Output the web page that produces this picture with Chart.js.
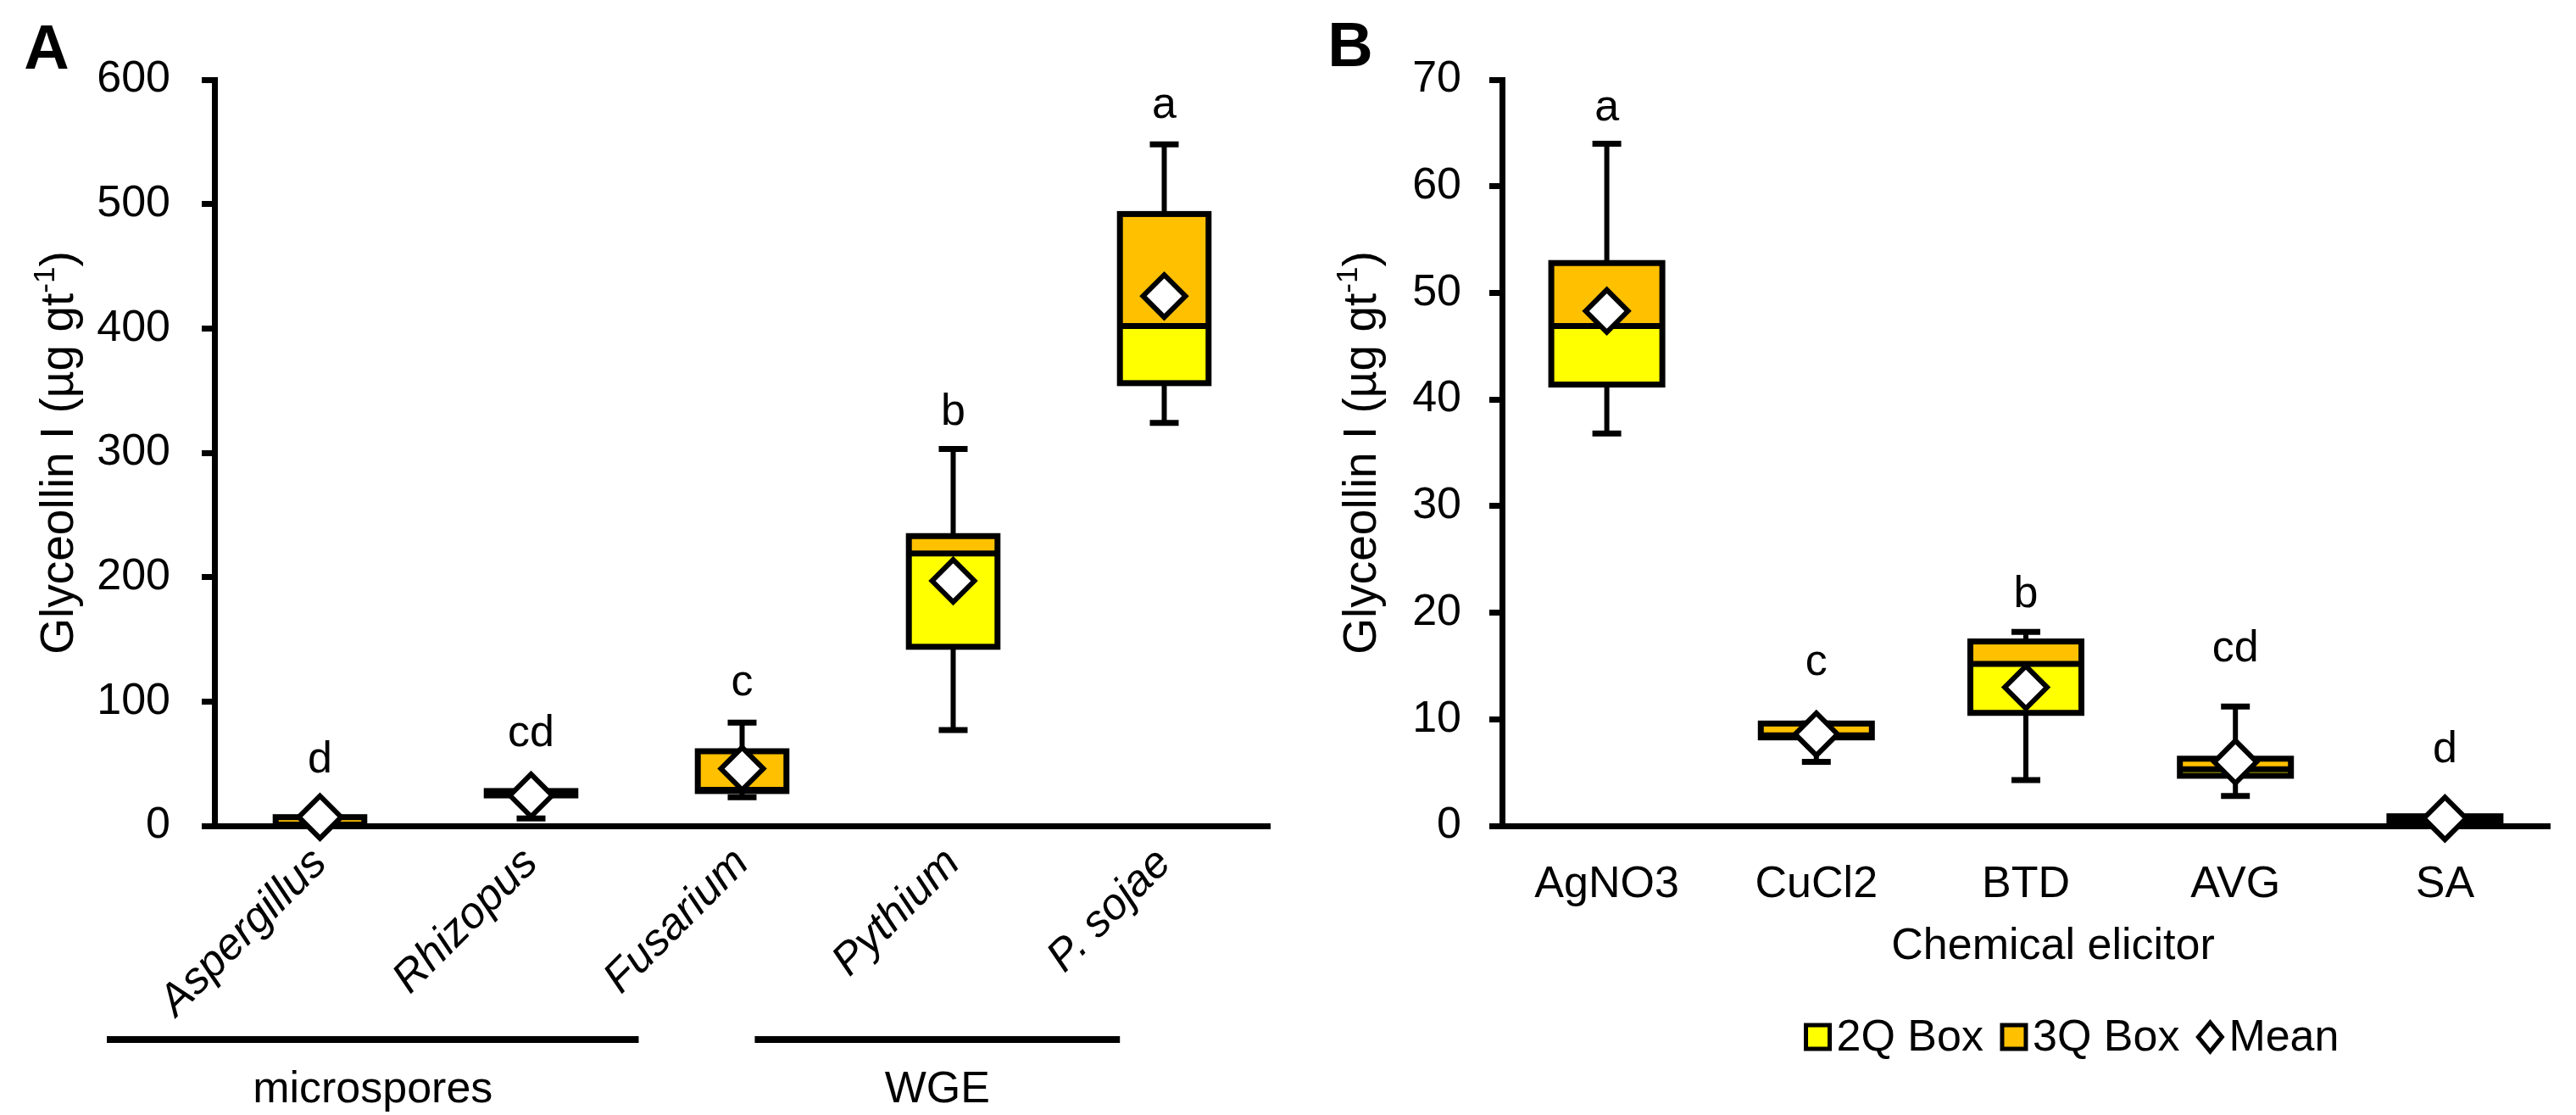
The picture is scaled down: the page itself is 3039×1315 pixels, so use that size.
<!DOCTYPE html>
<html>
<head>
<meta charset="utf-8">
<script src="https://cdn.jsdelivr.net/npm/chart.js@4.4.1/dist/chart.umd.min.js"></script>
<style>
  html, body { margin: 0; padding: 0; background: #fff; }
  body { width: 3039px; height: 1315px; position: relative; overflow: hidden; }
  .panel { position: absolute; top: 0; height: 1315px; }
  #panelA { left: 0; width: 1560px; }
  #panelB { left: 1560px; width: 1479px; }
</style>
</head>
<body>
<div class="panel" id="panelA"><canvas id="chartA"></canvas></div>
<div class="panel" id="panelB"><canvas id="chartB"></canvas></div>
<script>
// Panel A: glyceollin I induced by fungal elicitors
const fungi = ["Aspergillus", "Rhizopus", "Fusarium", "Pythium", "P. sojae"];
const fungiMin = [0, 6, 23, 77, 324];
const fungiQ1 = [0.5, 24.5, 28, 144, 356];
const fungiMedian = [1, 26, 29, 219, 402];
const fungiQ3 = [7, 28, 60, 233, 492];
const fungiMax = [7.5, 28.5, 83, 303, 548];
const fungiMean = [7, 24.5, 46, 197, 426];
const fungiLetters = ["d", "cd", "c", "b", "a"];
const fungiLetterAt = [53, 74, 115, 332, 579];
const fungiGroups = ["microspores", "WGE"];
const fungiGroupFrom = [0, 3];
const fungiGroupTo = [2, 4];

// Panel B: glyceollin I induced by chemical elicitors
const elicitors = ["AgNO3", "CuCl2", "BTD", "AVG", "SA"];
const elicMin = [36.8, 6.0, 4.3, 2.8, 0.2];
const elicQ1 = [41.4, 8.3, 10.6, 4.7, 0.4];
const elicMedian = [46.9, 8.5, 15.2, 5.3, 0.6];
const elicQ3 = [52.8, 9.6, 17.3, 6.3, 0.9];
const elicMax = [64.0, 9.6, 18.2, 11.2, 0.9];
const elicMean = [48.3, 8.6, 13.0, 6.0, 0.7];
const elicLetters = ["a", "c", "b", "cd", "d"];
const elicLetterAt = [67.3, 15.3, 21.7, 16.6, 7.1];

const legendLabels = ["2Q Box", "3Q Box", "Mean"];
const YELLOW = "#FFFF00";
const ORANGE = "#FFC000";
const FONT = "'Liberation Sans', Arial, sans-serif";

Chart.defaults.font.family = FONT;
Chart.defaults.font.size = 52;
Chart.defaults.color = "#000";

function line(ctx, x1, y1, x2, y2) {
  ctx.beginPath();
  ctx.moveTo(x1, y1);
  ctx.lineTo(x2, y2);
  ctx.stroke();
}

// whiskers, box outlines, medians and letters, drawn just before the mean diamonds
const boxPlugin = {
  id: "boxWhisker",
  beforeDatasetDraw(chart, args, opts) {
    if (args.meta.type !== "line") return;
    const ctx = chart.ctx;
    const y = chart.scales.y;
    const bars = chart.getDatasetMeta(0).data;
    ctx.save();
    ctx.strokeStyle = "#000";
    ctx.lineJoin = "miter";
    opts.min.forEach((_, i) => {
      const { x: cx, width } = bars[i].getProps(["x", "width"], true);
      const half = width / 2;
      const pMin = y.getPixelForValue(opts.min[i]);
      const pQ1 = y.getPixelForValue(opts.q1[i]);
      const pMed = y.getPixelForValue(opts.median[i]);
      const pQ3 = y.getPixelForValue(opts.q3[i]);
      const pMax = y.getPixelForValue(opts.max[i]);
      ctx.lineWidth = 6;
      line(ctx, cx, pQ3, cx, pMax);
      line(ctx, cx, pQ1, cx, pMin);
      ctx.lineWidth = 7;
      line(ctx, cx - 17, pMax, cx + 17, pMax);
      line(ctx, cx - 17, pMin, cx + 17, pMin);
      ctx.strokeRect(cx - half, pQ3, width, pQ1 - pQ3);
      line(ctx, cx - half, pMed, cx + half, pMed);

      ctx.fillStyle = "#000";
      ctx.font = "52px " + FONT;
      ctx.textAlign = "center";
      ctx.textBaseline = "middle";
      ctx.fillText(opts.letters[i], cx, y.getPixelForValue(opts.letterAt[i]));
    });
    ctx.restore();
  }
};

// panel letter, y title with superscript, group brackets, x title and legend
const decorPlugin = {
  id: "decor",
  afterDraw(chart, args, opts) {
    const ctx = chart.ctx;
    const area = chart.chartArea;
    ctx.save();
    ctx.fillStyle = "#000";

    ctx.font = "bold 74px " + FONT;
    ctx.textAlign = "center";
    ctx.textBaseline = "middle";
    ctx.fillText(opts.panel, opts.panelX, opts.panelY);

    // rotated y title
    ctx.save();
    ctx.translate(opts.yTitleX, (area.top + area.bottom) / 2);
    ctx.rotate(-Math.PI / 2);
    const main = "Glyceollin I (µg gt";
    const sup = "-1";
    const close = ")";
    ctx.font = "55px " + FONT;
    const wMain = ctx.measureText(main).width;
    const wClose = ctx.measureText(close).width;
    ctx.font = "35px " + FONT;
    const wSup = ctx.measureText(sup).width;
    let tx = -(wMain + wSup + wClose) / 2;
    ctx.textAlign = "left";
    ctx.textBaseline = "alphabetic";
    ctx.font = "55px " + FONT;
    ctx.fillText(main, tx, 20);
    tx += wMain;
    ctx.font = "35px " + FONT;
    ctx.fillText(sup, tx, -2);
    tx += wSup;
    ctx.font = "55px " + FONT;
    ctx.fillText(close, tx, 20);
    ctx.restore();

    const xs = chart.scales.x;
    const step = xs.getPixelForValue(1) - xs.getPixelForValue(0);

    if (opts.groups) {
      ctx.strokeStyle = "#000";
      ctx.lineWidth = 8;
      ctx.font = "52px " + FONT;
      ctx.textAlign = "center";
      ctx.textBaseline = "middle";
      opts.groups.forEach((name, g) => {
        const x1 = xs.getPixelForValue(opts.groupFrom[g]) - opts.groupStart[g] * step;
        const x2 = xs.getPixelForValue(opts.groupTo[g]) - opts.groupEnd[g] * step;
        line(ctx, x1, opts.groupLineY, x2, opts.groupLineY);
        ctx.fillText(name, (x1 + x2) / 2, opts.groupTextY);
      });
    }

    if (opts.xTitle) {
      const cx = (area.left + area.right) / 2;
      ctx.font = "52px " + FONT;
      ctx.textAlign = "center";
      ctx.textBaseline = "middle";
      ctx.fillText(opts.xTitle, cx + 32, opts.xTitleY);

      // legend
      ctx.font = "52px " + FONT;
      const sq = 28, gapIn = 8, gapOut = 22;
      const widths = opts.legend.map(t => ctx.measureText(t).width);
      const total = widths.reduce((a, b) => a + b, 0) + opts.legend.length * (sq + gapIn) + (opts.legend.length - 1) * gapOut;
      let lx = cx + 55 - total / 2;
      const ly = opts.legendY;
      ctx.textAlign = "left";
      opts.legend.forEach((t, i) => {
        ctx.lineWidth = 5;
        ctx.strokeStyle = "#000";
        if (i < 2) {
          ctx.fillStyle = i === 0 ? YELLOW : ORANGE;
          ctx.fillRect(lx, ly - sq / 2, sq, sq);
          ctx.strokeRect(lx, ly - sq / 2, sq, sq);
        } else {
          ctx.fillStyle = "#fff";
          ctx.beginPath();
          ctx.moveTo(lx, ly);
          ctx.lineTo(lx + sq / 2, ly - 17);
          ctx.lineTo(lx + sq, ly);
          ctx.lineTo(lx + sq / 2, ly + 17);
          ctx.closePath();
          ctx.fill();
          ctx.stroke();
        }
        ctx.fillStyle = "#000";
        ctx.fillText(t, lx + sq + gapIn, ly + 2);
        lx += sq + gapIn + widths[i] + gapOut;
      });
    }
    ctx.restore();
  }
};

function buildChart(id, cfg) {
  const datasets = [
    {
      type: "bar",
      label: legendLabels[0],
      data: cfg.labels.map((_, i) => [cfg.q1[i], cfg.median[i]]),
      backgroundColor: YELLOW,
      borderWidth: 0,
      barPercentage: cfg.barPct,
      categoryPercentage: 1,
      grouped: false,
      order: 2
    },
    {
      type: "bar",
      label: legendLabels[1],
      data: cfg.labels.map((_, i) => [cfg.median[i], cfg.q3[i]]),
      backgroundColor: ORANGE,
      borderWidth: 0,
      barPercentage: cfg.barPct,
      categoryPercentage: 1,
      grouped: false,
      order: 1
    },
    {
      type: "line",
      label: legendLabels[2],
      data: cfg.mean,
      showLine: false,
      pointStyle: "rectRot",
      pointRadius: 25,
      pointBackgroundColor: "#fff",
      pointBorderColor: "#000",
      pointBorderWidth: 6,
      clip: false,
      order: 0
    }
  ];

  return new Chart(document.getElementById(id), {
    type: "bar",
    data: { labels: cfg.labels, datasets: datasets },
    options: {
      responsive: true,
      maintainAspectRatio: false,
      devicePixelRatio: 1,
      animation: false,
      events: [],
      layout: { padding: { left: 0, right: cfg.padRight, top: 94, bottom: 0 } },
      plugins: {
        legend: { display: false },
        tooltip: { enabled: false },
        boxWhisker: {
          min: cfg.min, q1: cfg.q1, median: cfg.median, q3: cfg.q3, max: cfg.max,
          letters: cfg.letters, letterAt: cfg.letterAt
        },
        decor: cfg.decor
      },
      scales: {
        x: {
          ticks: {
            autoSkip: false,
            minRotation: cfg.rotation,
            maxRotation: cfg.rotation,
            padding: cfg.xPad,
            color: "#000",
            font: { size: 52, style: cfg.italic ? "italic" : "normal" }
          },
          grid: { display: false },
          border: { display: true, color: "#000", width: 7 },
          afterFit(scale) { scale.height = 1315 - 94 - 880; }
        },
        y: {
          min: 0,
          max: cfg.yMax,
          ticks: { stepSize: cfg.yStep, padding: cfg.yPad, color: "#000", font: { size: 52 } },
          grid: {
            display: true, drawOnChartArea: false, drawTicks: true,
            tickLength: 15, tickWidth: 7, tickColor: "#000"
          },
          border: { display: true, color: "#000", width: 7 },
          afterFit(scale) { scale.width = cfg.yWidth; }
        }
      }
    },
    plugins: [boxPlugin, decorPlugin]
  });
}

buildChart("chartA", {
  labels: fungi, min: fungiMin, q1: fungiQ1, median: fungiMedian, q3: fungiQ3, max: fungiMax,
  mean: fungiMean, letters: fungiLetters, letterAt: fungiLetterAt,
  barPct: 0.42, yMax: 600, yStep: 100, yWidth: 253, yPad: 37, padRight: 62,
  rotation: 45, italic: true, xPad: 6,
  decor: {
    panel: "A", panelX: 55, panelY: 61, yTitleX: 66,
    groups: fungiGroups, groupFrom: fungiGroupFrom, groupTo: fungiGroupTo,
    groupStart: [1.01, 0.94], groupEnd: [0.49, 0.21],
    groupLineY: 1226, groupTextY: 1286
  }
});

buildChart("chartB", {
  labels: elicitors, min: elicMin, q1: elicQ1, median: elicMedian, q3: elicQ3, max: elicMax,
  mean: elicMean, letters: elicLetters, letterAt: elicLetterAt,
  barPct: 0.53, yMax: 70, yStep: 10, yWidth: 212, yPad: 33, padRight: 19,
  rotation: 0, italic: false, xPad: 30,
  decor: {
    panel: "B", panelX: 33, panelY: 58, yTitleX: 43,
    xTitle: "Chemical elicitor", xTitleY: 1117,
    legend: legendLabels, legendY: 1223
  }
});
</script>
</body>
</html>
